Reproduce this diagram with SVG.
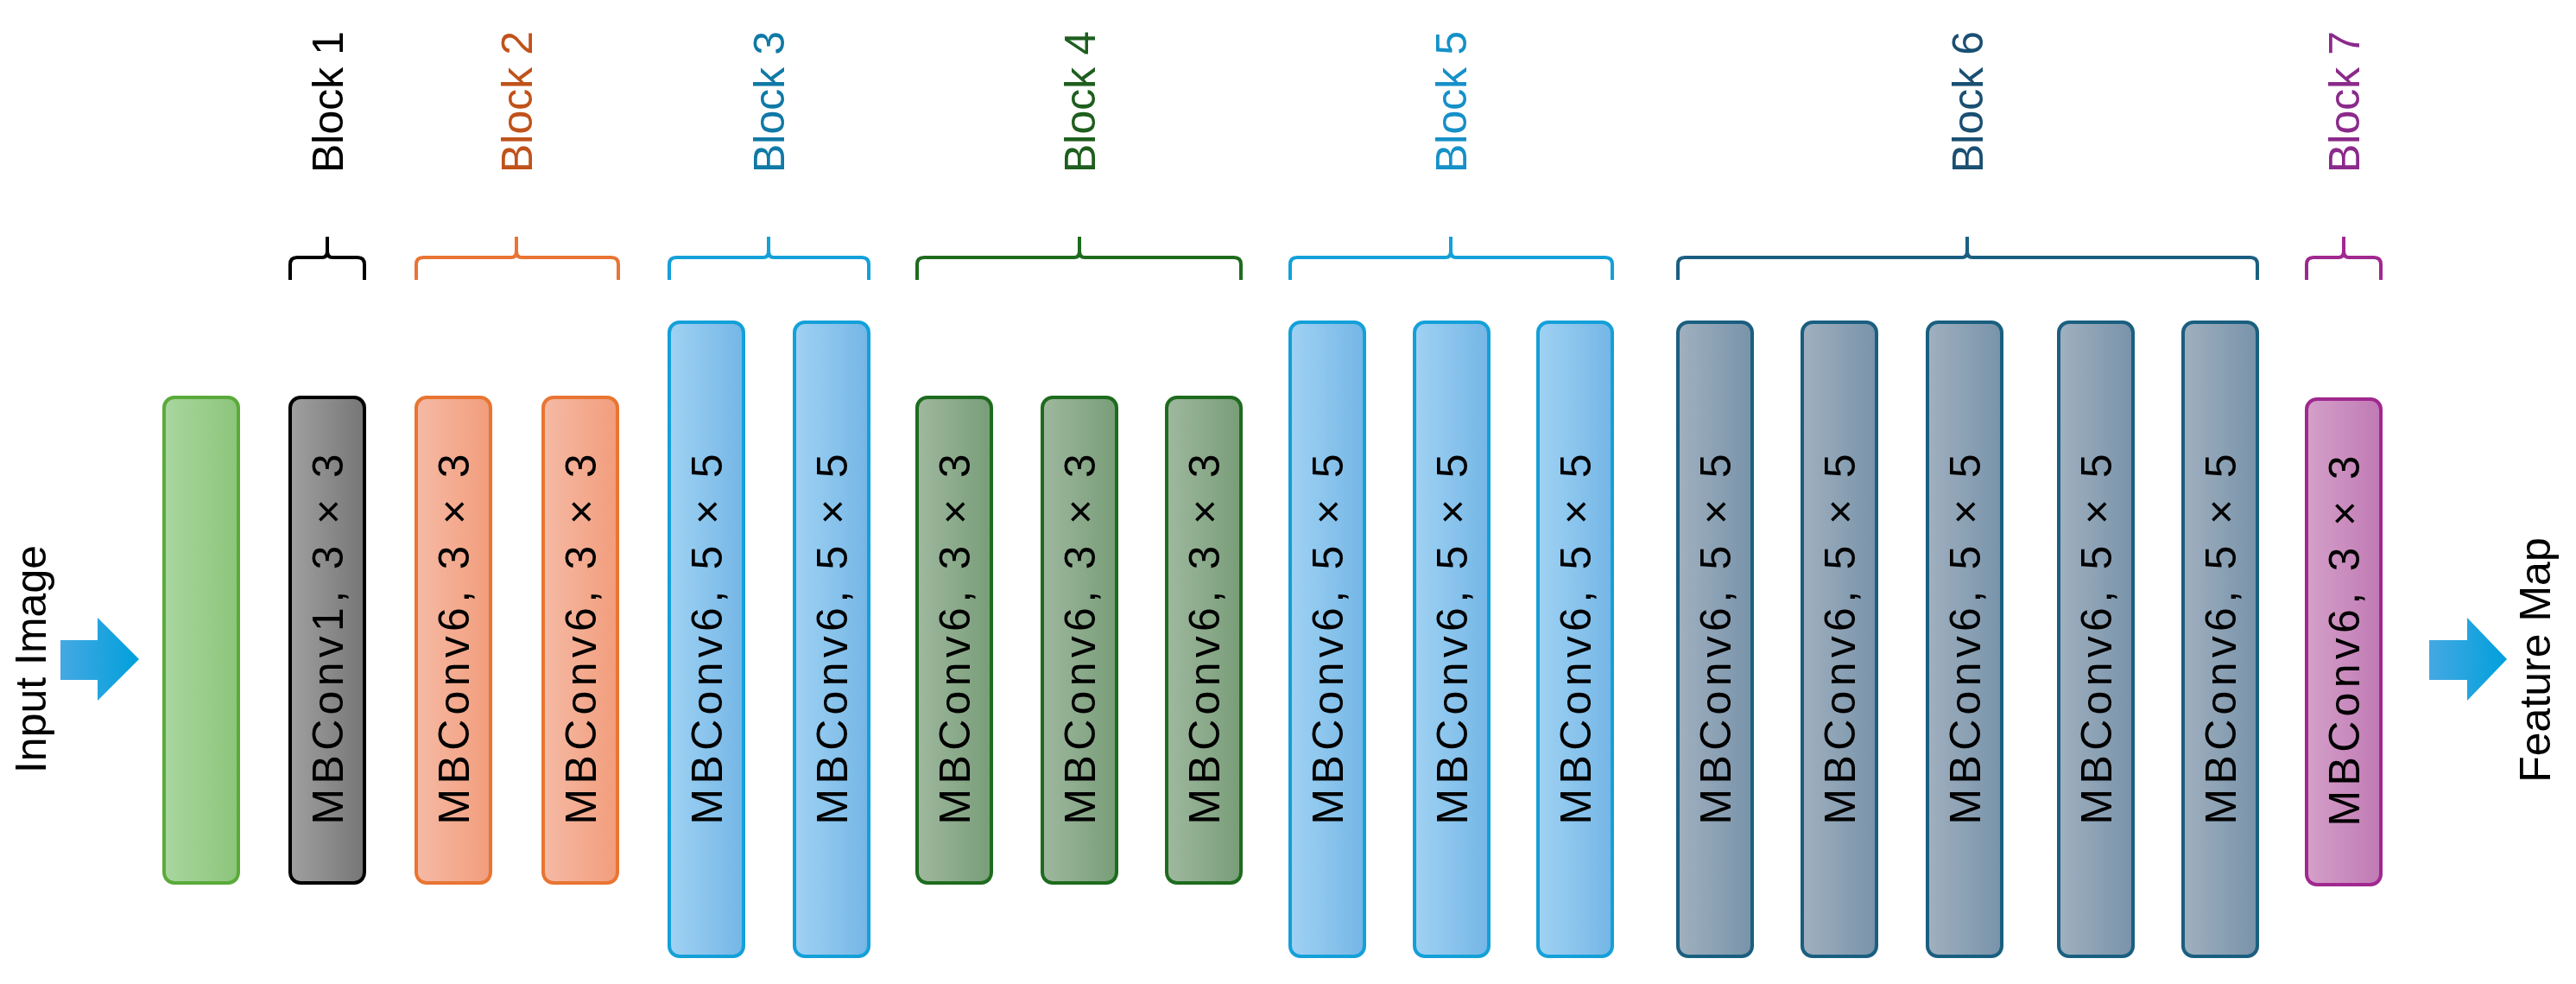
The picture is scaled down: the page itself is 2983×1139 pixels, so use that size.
<svg xmlns="http://www.w3.org/2000/svg" width="2983" height="1139" viewBox="0 0 2983 1139">
<defs>
<linearGradient id="gG"><stop offset="0" stop-color="#A9D6A0"/><stop offset="1" stop-color="#8CC57A"/></linearGradient>
<linearGradient id="gK"><stop offset="0" stop-color="#A0A0A0"/><stop offset="1" stop-color="#767676"/></linearGradient>
<linearGradient id="gO"><stop offset="0" stop-color="#F5BAA5"/><stop offset="1" stop-color="#F29D7C"/></linearGradient>
<linearGradient id="gB"><stop offset="0" stop-color="#A0D2F3"/><stop offset="1" stop-color="#74B6E6"/></linearGradient>
<linearGradient id="gD"><stop offset="0" stop-color="#9FB89F"/><stop offset="1" stop-color="#789D78"/></linearGradient>
<linearGradient id="gS"><stop offset="0" stop-color="#A0B0BF"/><stop offset="1" stop-color="#7893AA"/></linearGradient>
<linearGradient id="gP"><stop offset="0" stop-color="#D4A0C9"/><stop offset="1" stop-color="#C07AB4"/></linearGradient>
<linearGradient id="gA"><stop offset="0" stop-color="#45A8E2"/><stop offset="1" stop-color="#00A0DC"/></linearGradient>
</defs>
<style>
.b{stroke-width:4}
.t{font-family:"Liberation Sans",Arial,sans-serif;font-size:50px;fill:#000}
.l{font-family:"Liberation Sans",Arial,sans-serif;font-size:50px}
.br{fill:none;stroke-width:4}
</style>
<g id="input">
<polygon points="70,741 113,741 113,715 161,763 113,811 113,787 70,787" fill="url(#gA)"/>
<text class="l" transform="translate(53,763) rotate(-90)" text-anchor="middle" font-size="53">Input Image</text>
</g>
<g id="output">
<polygon points="2813,741 2857,741 2857,715 2903,763 2857,811 2857,787 2813,787" fill="url(#gA)"/>
<text class="l" transform="translate(2953,764) rotate(-90)" text-anchor="middle" font-size="52">Feature Map</text>
</g>
<g id="boxes">
<g id="conv"><rect class="b" x="190" y="460" width="86" height="562" rx="12" fill="url(#gG)" stroke="#5AAA3A"/><text class="t" transform="translate(397,740) rotate(-90)" text-anchor="middle" textLength="303" lengthAdjust="spacing">Conv 3 × 3</text></g>
</g>
<g id="b1"><rect class="b" x="336" y="460" width="86" height="562" rx="12" fill="url(#gK)" stroke="#000"/><text class="t" transform="translate(397,740) rotate(-90)" text-anchor="middle" textLength="429" lengthAdjust="spacing">MBConv1, 3 × 3</text></g>
<g id="b2a"><rect class="b" x="482" y="460" width="86" height="562" rx="12" fill="url(#gO)" stroke="#E87533"/><text class="t" transform="translate(543,740) rotate(-90)" text-anchor="middle" textLength="429" lengthAdjust="spacing">MBConv6, 3 × 3</text></g>
<g id="b2b"><rect class="b" x="629" y="460" width="86" height="562" rx="12" fill="url(#gO)" stroke="#E87533"/><text class="t" transform="translate(690,740) rotate(-90)" text-anchor="middle" textLength="429" lengthAdjust="spacing">MBConv6, 3 × 3</text></g>
<g id="b3a"><rect class="b" x="775" y="373" width="86" height="734" rx="12" fill="url(#gB)" stroke="#14A0D8"/><text class="t" transform="translate(836,740) rotate(-90)" text-anchor="middle" textLength="429" lengthAdjust="spacing">MBConv6, 5 × 5</text></g>
<g id="b3b"><rect class="b" x="920" y="373" width="86" height="734" rx="12" fill="url(#gB)" stroke="#14A0D8"/><text class="t" transform="translate(981,740) rotate(-90)" text-anchor="middle" textLength="429" lengthAdjust="spacing">MBConv6, 5 × 5</text></g>
<g id="b4a"><rect class="b" x="1062" y="460" width="86" height="562" rx="12" fill="url(#gD)" stroke="#1E6B1E"/><text class="t" transform="translate(1123,740) rotate(-90)" text-anchor="middle" textLength="429" lengthAdjust="spacing">MBConv6, 3 × 3</text></g>
<g id="b4b"><rect class="b" x="1207" y="460" width="86" height="562" rx="12" fill="url(#gD)" stroke="#1E6B1E"/><text class="t" transform="translate(1268,740) rotate(-90)" text-anchor="middle" textLength="429" lengthAdjust="spacing">MBConv6, 3 × 3</text></g>
<g id="b4c"><rect class="b" x="1351" y="460" width="86" height="562" rx="12" fill="url(#gD)" stroke="#1E6B1E"/><text class="t" transform="translate(1412,740) rotate(-90)" text-anchor="middle" textLength="429" lengthAdjust="spacing">MBConv6, 3 × 3</text></g>
<g id="b5a"><rect class="b" x="1494" y="373" width="86" height="734" rx="12" fill="url(#gB)" stroke="#14A0D8"/><text class="t" transform="translate(1555,740) rotate(-90)" text-anchor="middle" textLength="429" lengthAdjust="spacing">MBConv6, 5 × 5</text></g>
<g id="b5b"><rect class="b" x="1638" y="373" width="86" height="734" rx="12" fill="url(#gB)" stroke="#14A0D8"/><text class="t" transform="translate(1699,740) rotate(-90)" text-anchor="middle" textLength="429" lengthAdjust="spacing">MBConv6, 5 × 5</text></g>
<g id="b5c"><rect class="b" x="1781" y="373" width="86" height="734" rx="12" fill="url(#gB)" stroke="#14A0D8"/><text class="t" transform="translate(1842,740) rotate(-90)" text-anchor="middle" textLength="429" lengthAdjust="spacing">MBConv6, 5 × 5</text></g>
<g id="b6a"><rect class="b" x="1943" y="373" width="86" height="734" rx="12" fill="url(#gS)" stroke="#1A5F80"/><text class="t" transform="translate(2004,740) rotate(-90)" text-anchor="middle" textLength="429" lengthAdjust="spacing">MBConv6, 5 × 5</text></g>
<g id="b6b"><rect class="b" x="2087" y="373" width="86" height="734" rx="12" fill="url(#gS)" stroke="#1A5F80"/><text class="t" transform="translate(2148,740) rotate(-90)" text-anchor="middle" textLength="429" lengthAdjust="spacing">MBConv6, 5 × 5</text></g>
<g id="b6c"><rect class="b" x="2232" y="373" width="86" height="734" rx="12" fill="url(#gS)" stroke="#1A5F80"/><text class="t" transform="translate(2293,740) rotate(-90)" text-anchor="middle" textLength="429" lengthAdjust="spacing">MBConv6, 5 × 5</text></g>
<g id="b6d"><rect class="b" x="2384" y="373" width="86" height="734" rx="12" fill="url(#gS)" stroke="#1A5F80"/><text class="t" transform="translate(2445,740) rotate(-90)" text-anchor="middle" textLength="429" lengthAdjust="spacing">MBConv6, 5 × 5</text></g>
<g id="b6e"><rect class="b" x="2528" y="373" width="86" height="734" rx="12" fill="url(#gS)" stroke="#1A5F80"/><text class="t" transform="translate(2589,740) rotate(-90)" text-anchor="middle" textLength="429" lengthAdjust="spacing">MBConv6, 5 × 5</text></g>
<g id="b7"><rect class="b" x="2671" y="462" width="86" height="562" rx="12" fill="url(#gP)" stroke="#A0288F"/><text class="t" transform="translate(2732,742) rotate(-90)" text-anchor="middle" textLength="429" lengthAdjust="spacing">MBConv6, 3 × 3</text></g>
<g id="braces" class="br">
<path d="M336,324 V306 Q336,298 344,298 H373 Q379,298 379,290 V274 M379,290 Q379,298 385,298 H414 Q422,298 422,306 V324" stroke="#000"/>
<path d="M482,324 V306 Q482,298 490,298 H592 Q598,298 598,290 V274 M598,290 Q598,298 604,298 H708 Q716,298 716,306 V324" stroke="#E87533"/>
<path d="M775,324 V306 Q775,298 783,298 H884 Q890,298 890,290 V274 M890,290 Q890,298 896,298 H998 Q1006,298 1006,306 V324" stroke="#14A0D8"/>
<path d="M1062,324 V306 Q1062,298 1070,298 H1244 Q1250,298 1250,290 V274 M1250,290 Q1250,298 1256,298 H1429 Q1437,298 1437,306 V324" stroke="#1E6B1E"/>
<path d="M1494,324 V306 Q1494,298 1502,298 H1674 Q1680,298 1680,290 V274 M1680,290 Q1680,298 1686,298 H1859 Q1867,298 1867,306 V324" stroke="#14A0D8"/>
<path d="M1943,324 V306 Q1943,298 1951,298 H2272 Q2278,298 2278,290 V274 M2278,290 Q2278,298 2284,298 H2606 Q2614,298 2614,306 V324" stroke="#1A5F80"/>
<path d="M2671,324 V306 Q2671,298 2679,298 H2708 Q2714,298 2714,290 V274 M2714,290 Q2714,298 2720,298 H2749 Q2757,298 2757,306 V324" stroke="#A0288F"/>
</g>
<g id="labels">
<text class="l" transform="translate(397,200) rotate(-90)" fill="#000">Block 1</text>
<text class="l" transform="translate(616,200) rotate(-90)" fill="#C0521A">Block 2</text>
<text class="l" transform="translate(908,200) rotate(-90)" fill="#1079A6">Block 3</text>
<text class="l" transform="translate(1268,200) rotate(-90)" fill="#1E5E1E">Block 4</text>
<text class="l" transform="translate(1698,200) rotate(-90)" fill="#1690C8">Block 5</text>
<text class="l" transform="translate(2296,200) rotate(-90)" fill="#1A4F72">Block 6</text>
<text class="l" transform="translate(2732,200) rotate(-90)" fill="#8B2A8B">Block 7</text>
</g>
</svg>
